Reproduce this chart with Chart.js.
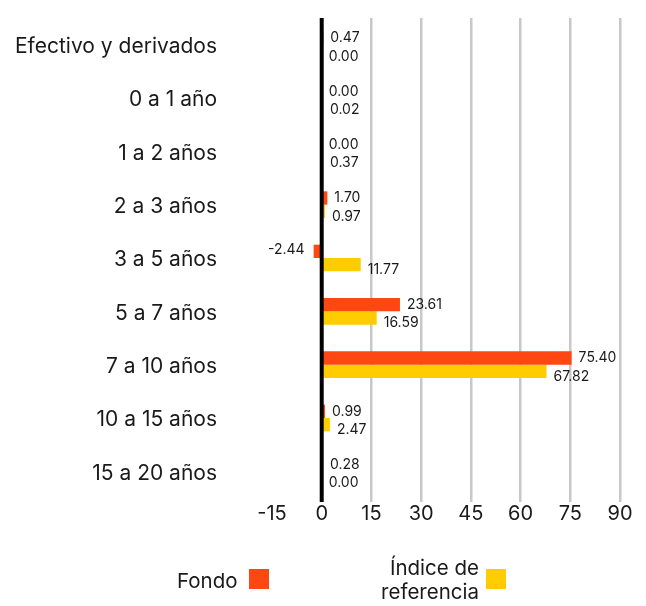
<!DOCTYPE html>
<html>
<head>
<meta charset="utf-8">
<script src="https://cdn.jsdelivr.net/npm/chart.js@4.4.1/dist/chart.umd.min.js"></script>
<style>
  html, body { margin: 0; padding: 0; background: #fff; }
  #wrap { position: relative; width: 646px; height: 606px; }
  canvas { position: absolute; left: 0; top: 0; }
  .leg { position: absolute; font-family: 'Inter', 'Noto Sans', sans-serif; font-size: 20.5px; color: #1a1a1a; line-height: 24px; }
  .sw { position: absolute; width: 20px; height: 20px; }
</style>
</head>
<body>
<div id="wrap">
  <canvas id="c" width="646" height="606"></canvas>
  <div class="leg" id="l1" style="left:177px; top:569px;">Fondo</div>
  <div class="sw" style="left:249px; top:569px; background:#FF4714;"></div>
  <div class="leg" id="l2" style="right:167px; top:556px; text-align:right;">Índice de<br>referencia</div>
  <div class="sw" style="left:486px; top:569px; background:#FFCC00;"></div>
</div>
<script>
const categories = ['Efectivo y derivados','0 a 1 año','1 a 2 años','2 a 3 años','3 a 5 años','5 a 7 años','7 a 10 años','10 a 15 años','15 a 20 años'];
const fondo = [0.47, 0.00, 0.00, 1.70, -2.44, 23.61, 75.40, 0.99, 0.28];
const indice = [0.00, 0.02, 0.37, 0.97, 11.77, 16.59, 67.82, 2.47, 0.00];
const seriesNames = ['Fondo', 'Índice de referencia'];
const xTicks = [-15, 0, 15, 30, 45, 60, 75, 90];

const FONT = "'Inter', 'Noto Sans', sans-serif";

const labelPlugin = {
  id: 'barLabels',
  afterDatasetsDraw(chart) {
    const ctx = chart.ctx;
    const area = chart.chartArea;
    const xs = chart.scales.x;
    ctx.save();
    // zero line on top of bars
    const x0 = xs.getPixelForValue(0);
    ctx.strokeStyle = '#000';
    ctx.lineWidth = 4;
    ctx.beginPath();
    ctx.moveTo(x0, area.top);
    ctx.lineTo(x0, area.bottom + 4);
    ctx.stroke();

    ctx.font = '14px ' + FONT;
    ctx.fillStyle = '#1a1a1a';
    ctx.textBaseline = 'middle';
    chart.data.datasets.forEach((ds, di) => {
      const meta = chart.getDatasetMeta(di);
      const dy = di === 0 ? 0 : 5;
      meta.data.forEach((el, i) => {
        const v = ds.data[i];
        const txt = v.toFixed(2);
        if (v < 0) {
          ctx.textAlign = 'right';
          ctx.fillText(txt, el.x - 9, el.y - 2);
        } else {
          ctx.textAlign = 'left';
          ctx.fillText(txt, Math.max(el.x, el.base) + 7, el.y + dy);
        }
      });
    });
    ctx.restore();
  }
};

new Chart(document.getElementById('c'), {
  type: 'bar',
  data: {
    labels: categories,
    datasets: [
      { label: seriesNames[0], data: fondo, backgroundColor: '#FF4714', categoryPercentage: 0.5, barPercentage: 1.0 },
      { label: seriesNames[1], data: indice, backgroundColor: '#FFCC00', categoryPercentage: 0.5, barPercentage: 1.0 }
    ]
  },
  options: {
    indexAxis: 'y',
    responsive: false,
    animation: false,
    devicePixelRatio: 1,
    layout: { padding: { top: 18, right: 26, left: 0, bottom: 0 } },
    plugins: { legend: { display: false }, tooltip: { enabled: false } },
    scales: {
      x: {
        min: xTicks[0], max: xTicks[xTicks.length - 1],
        afterBuildTicks(scale) { scale.ticks = xTicks.map(v => ({ value: v })); },
        afterFit(scale) { scale.height = 108; },
        border: { display: false },
        grid: {
          drawTicks: true,
          tickLength: 4,
          color: ctx => ctx.tick && (ctx.tick.value === 0 || ctx.tick.value === -15) ? 'rgba(0,0,0,0)' : '#c8c8c8',
          lineWidth: 2.5
        },
        ticks: { font: { family: FONT, size: 20 }, color: '#1a1a1a', padding: 0, maxRotation: 0 }
      },
      y: {
        afterFit(scale) { scale.width = 272; },
        border: { display: false },
        grid: { display: false, drawTicks: true, tickLength: 51 },
        ticks: { font: { family: FONT, size: 21 }, color: '#1a1a1a', padding: 4, labelOffset: 2 }
      }
    }
  },
  plugins: [labelPlugin]
});
</script>
</body>
</html>
